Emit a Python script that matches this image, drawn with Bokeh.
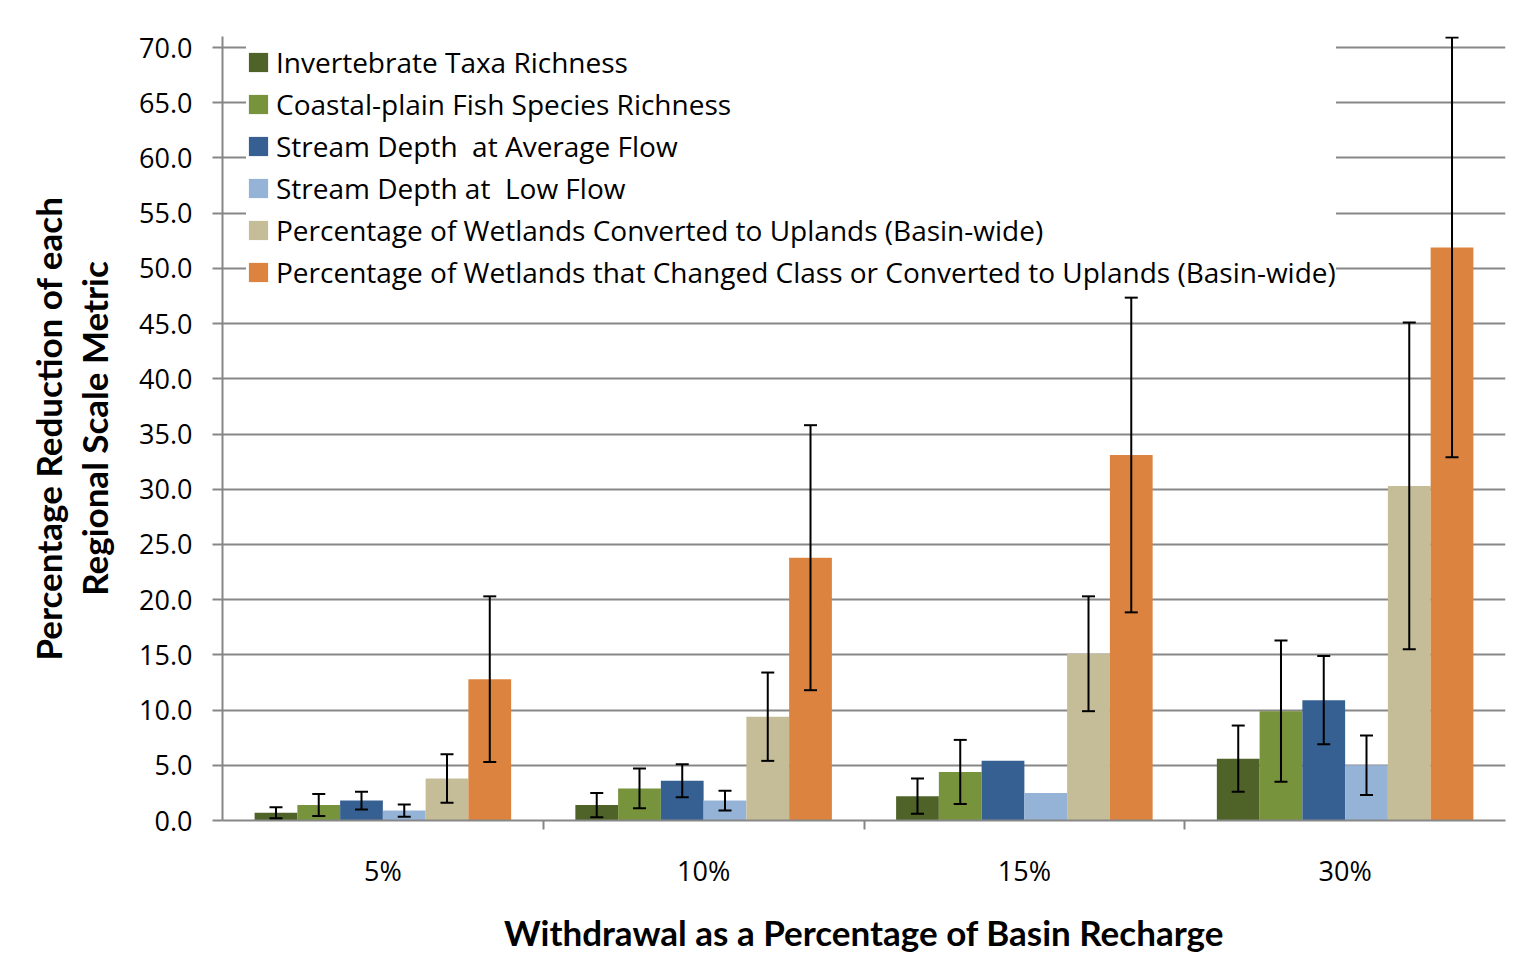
from bokeh.plotting import figure
from bokeh.models import (FactorRange, Range1d, CategoricalAxis, FixedTicker,
                          PrintfTickFormatter, ColumnDataSource, Whisker, TeeHead)
from bokeh.transform import dodge
from bokeh.embed import file_html
from bokeh.resources import INLINE

cats = ["5%", "10%", "15%", "30%"]
names = ["Invertebrate Taxa Richness",
         "Coastal-plain Fish Species Richness",
         "Stream Depth  at Average Flow",
         "Stream Depth at  Low Flow",
         "Percentage of Wetlands Converted to Uplands (Basin-wide)",
         "Percentage of Wetlands that Changed Class or Converted to Uplands (Basin-wide)"]
colors = ["#4f6228", "#77933c", "#376092", "#95b3d7", "#c4bd97", "#dc843f"]

inv = [0.7, 1.4, 2.2, 5.6]
inv_err = [0.5, 1.1, 1.6, 3.0]
fish = [1.4, 2.9, 4.4, 9.9]
fish_err = [1.0, 1.8, 2.9, 6.4]
depth_avg = [1.8, 3.6, 5.4, 10.9]
depth_avg_err = [0.8, 1.5, None, 4.0]
depth_low = [0.9, 1.8, 2.5, 5.0]
depth_low_err = [0.55, 0.9, None, 2.7]
wet_conv = [3.8, 9.4, 15.1, 30.3]
wet_conv_err = [2.2, 4.0, 5.2, 14.8]
wet_chg = [12.8, 23.8, 33.1, 51.9]
wet_chg_err = [7.5, 12.0, 14.25, 19.0]

y_ticks = [0, 5, 10, 15, 20, 25, 30, 35, 40, 45, 50, 55, 60, 65, 70]

series = [inv, fish, depth_avg, depth_low, wet_conv, wet_chg]
errors = [inv_err, fish_err, depth_avg_err, depth_low_err, wet_conv_err, wet_chg_err]

GREY = "#878787"
FONT = "Open Sans"
BOLD = "Lato"

p = figure(x_range=FactorRange(*cats), y_range=Range1d(0, 71),
           width=1539, height=963, output_backend="svg", toolbar_location=None,
           x_axis_location=None,
           min_border_left=222, min_border_right=34, min_border_top=36, min_border_bottom=143)
p.outline_line_color = None
p.background_fill_color = "white"
p.border_fill_color = "white"
p.xgrid.visible = False

# y axis
ya = p.yaxis[0]
ya.ticker = FixedTicker(ticks=y_ticks)
ya.formatter = PrintfTickFormatter(format="%.1f")
ya.major_label_text_font = FONT
ya.major_label_text_font_size = "27px"
ya.major_label_text_color = "black"
ya.major_tick_in = 0
ya.major_tick_out = 10
ya.major_tick_line_color = GREY
ya.major_tick_line_width = 2
ya.minor_tick_line_color = None
ya.axis_line_color = GREY
ya.axis_line_width = 2
ya.major_label_standoff = 20
ya.axis_label = "Percentage Reduction of each\nRegional Scale Metric"
ya.axis_label_text_font = BOLD
ya.axis_label_text_font_style = "bold"
ya.axis_label_text_font_size = "35px"
ya.axis_label_text_line_height = 1.1
ya.axis_label_text_color = "black"
ya.axis_label_standoff = 21

p.ygrid.ticker = FixedTicker(ticks=y_ticks)
p.ygrid.grid_line_color = GREY
p.ygrid.grid_line_width = 2

# x axes: boundary ticks (an auxiliary factor range whose factor centres fall on the
# group boundaries) + category labels
bounds = [" " * (k + 1) for k in range(len(cats) + 1)]
p.extra_x_ranges = {"bounds": FactorRange(*bounds, range_padding=-0.5,
                                          range_padding_units="absolute")}
tick_axis = CategoricalAxis(x_range_name="bounds",
                            major_label_text_font_size="0px", major_label_standoff=0,
                            major_tick_in=0, major_tick_out=9,
                            major_tick_line_color=GREY, major_tick_line_width=2,
                            axis_line_color=GREY, axis_line_width=2)
cat_axis = CategoricalAxis(axis_line_color=None, major_tick_line_color=None,
                           major_tick_in=0, major_tick_out=0,
                           major_label_text_font=FONT, major_label_text_font_size="27px",
                           major_label_text_color="black", major_label_standoff=22,
                           axis_label="Withdrawal as a Percentage of Basin Recharge",
                           axis_label_text_font=BOLD, axis_label_text_font_style="bold",
                           axis_label_text_font_size="35px", axis_label_text_color="black",
                           axis_label_standoff=19)
p.add_layout(tick_axis, "below")
p.add_layout(cat_axis, "below")

w = 0.1333
n = len(series)
for i, (vals, errs) in enumerate(zip(series, errors)):
    off = (i - (n - 1) / 2) * w
    src = ColumnDataSource(dict(x=cats, top=vals))
    p.vbar(x=dodge("x", off, range=p.x_range), top="top", bottom=0, width=w,
           source=src, fill_color=colors[i], line_color=None, legend_label=names[i])
    ex = [c for c, e in zip(cats, errs) if e is not None]
    up = [v + e for v, e in zip(vals, errs) if e is not None]
    lo = [v - e for v, e in zip(vals, errs) if e is not None]
    esrc = ColumnDataSource(dict(x=ex, upper=up, lower=lo))
    wh = Whisker(base=dodge("x", off, range=p.x_range), upper="upper", lower="lower",
                 source=esrc, line_color="black", line_width=2,
                 upper_head=TeeHead(size=13, line_color="black", line_width=2),
                 lower_head=TeeHead(size=13, line_color="black", line_width=2),
                 level="overlay")
    p.add_layout(wh)

lg = p.legend[0]
lg.location = (24, 529)
lg.padding = 11
lg.margin = 0
lg.spacing = 4
lg.border_line_color = None
lg.background_fill_color = "white"
lg.background_fill_alpha = 1
lg.glyph_width = 24
lg.glyph_height = 24
lg.label_standoff = 6
lg.label_text_font = FONT
lg.label_text_font_size = "28px"
lg.label_text_color = "black"
lg.label_height = 20

open("out.html", "w").write(file_html(p, INLINE))
